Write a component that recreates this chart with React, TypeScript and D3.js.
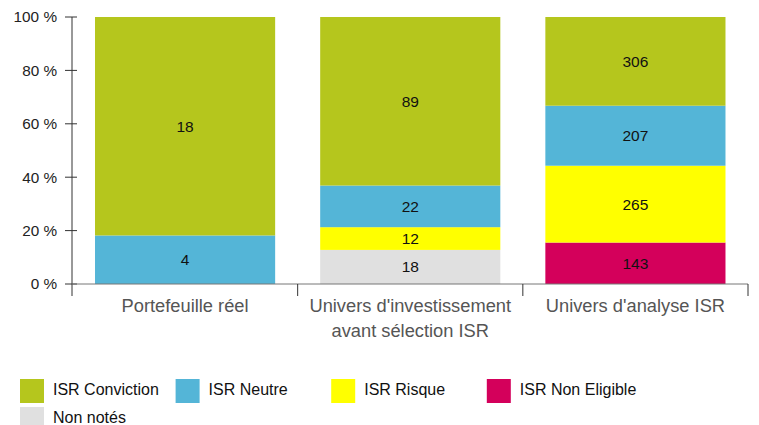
import React from 'react';
import * as d3 from 'd3';

const width = 759;
const height = 425;
const margin = { top: 17, left: 72, right: 11, bottom: 141 };

// data
const categories = ['Portefeuille réel', "Univers d'investissement\navant sélection ISR", "Univers d'analyse ISR"];
const seriesNames = ['ISR Conviction', 'ISR Neutre', 'ISR Risque', 'ISR Non Eligible', 'Non notés'];
const conviction = [18, 89, 306];
const neutre = [4, 22, 207];
const risque = [0, 12, 265];
const nonEligible = [0, 0, 143];
const nonNotes = [0, 18, 0];
const yTicks = [0, 20, 40, 60, 80, 100];

const colors: Record<string, string> = {
  'ISR Conviction': '#b5c61d',
  'ISR Neutre': '#54b5d7',
  'ISR Risque': '#ffff00',
  'ISR Non Eligible': '#d4005b',
  'Non notés': '#e0e0e0',
};

const valuesBySeries: Record<string, number[]> = {
  'ISR Conviction': conviction,
  'ISR Neutre': neutre,
  'ISR Risque': risque,
  'ISR Non Eligible': nonEligible,
  'Non notés': nonNotes,
};

// stacking order, bottom to top
const stackOrder = ['Non notés', 'ISR Non Eligible', 'ISR Risque', 'ISR Neutre', 'ISR Conviction'];

const rows = categories.map((c, i) => {
  const r: any = { cat: c };
  seriesNames.forEach(s => { r[s] = valuesBySeries[s][i]; });
  return r;
});

const stacked = d3.stack<any>().keys(stackOrder).offset(d3.stackOffsetExpand)(rows);

const x = d3.scaleBand().domain(categories).range([margin.left + 0.5, width - margin.right]).paddingInner(0.2).paddingOuter(0.1);
const y = d3.scaleLinear().domain([0, 1]).range([height - margin.bottom, margin.top]);

const font = 'Arial, "Liberation Sans", sans-serif';

export default function App() {
  const y0 = y(0);
  const bandStep = x.step();
  const axisLeft = margin.left;
  const axisRight = (x(categories[categories.length - 1]) as number) - x.paddingOuter() * bandStep + bandStep;

  return (
    <svg width={width} height={height} style={{ position: 'absolute', left: 0, top: 0, background: '#fff' }} fontFamily={font}>
      {stacked.map(layer => (
        <g key={layer.key}>
          {layer.map((d, i) => {
            const h = y(d[0]) - y(d[1]);
            if (h <= 0) return null;
            return (
              <g key={i}>
                <rect x={x(categories[i])} y={y(d[1])} width={x.bandwidth()} height={h} fill={colors[layer.key]} />
                <text x={(x(categories[i]) as number) + x.bandwidth() / 2} y={(y(d[0]) + y(d[1])) / 2} dy="0.35em"
                  textAnchor="middle" fontSize={15.5} fill="#111">{valuesBySeries[layer.key][i]}</text>
              </g>
            );
          })}
        </g>
      ))}

      {/* y axis */}
      <line x1={axisLeft} x2={axisLeft} y1={y(1)} y2={y0 + 12} stroke="#333" />
      {yTicks.map(t => (
        <g key={t}>
          <line x1={axisLeft - 7} x2={axisLeft + 5} y1={y(t / 100)} y2={y(t / 100)} stroke="#333" />
          <text x={axisLeft - 15} y={y(t / 100)} dy="0.35em" textAnchor="end" fontSize={15.3} fill="#222">{t}{'\u00a0'}%</text>
        </g>
      ))}

      {/* x axis */}
      <line x1={axisLeft} x2={axisRight} y1={y0} y2={y0} stroke="#777" />
      {categories.map((c, i) => {
        const bx = (x(c) as number) - x.paddingInner() * bandStep / 2 + bandStep;
        const cx = (x(c) as number) + x.bandwidth() / 2;
        return (
          <g key={c}>
            <line x1={bx} x2={bx} y1={y0} y2={y0 + 12} stroke="#333" />
            {c.split('\n').map((line, k) => (
              <text key={k} x={cx} y={y0 + 28 + k * 25} textAnchor="middle" fontSize={18.3} fill="#555">{line}</text>
            ))}
          </g>
        );
      })}

      {/* legend */}
      {seriesNames.map((s, i) => {
        const lx = 20 + (i % 4) * 155.6;
        const ly = 379 + Math.floor(i / 4) * 28;
        return (
          <g key={s}>
            <rect x={lx} y={ly} width={24} height={24} fill={colors[s]} />
            <text x={lx + 33} y={ly + 10} dy="0.35em" fontSize={16} fill="#111">{s}</text>
          </g>
        );
      })}
    </svg>
  );
}
